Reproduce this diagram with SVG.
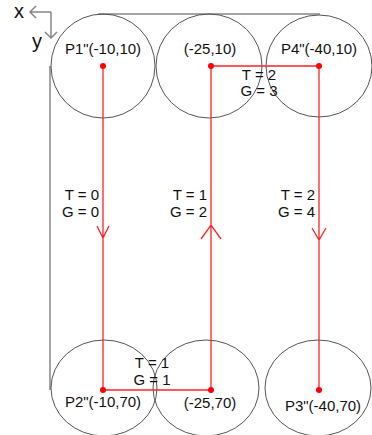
<svg xmlns="http://www.w3.org/2000/svg" width="372" height="435" viewBox="0 0 372 435">
<style>
.c{fill:none;stroke:#555;stroke-width:1}
.g{fill:none;stroke:#888;stroke-width:1.5}
.r{fill:none;stroke:#f22;stroke-width:1.3}
.d{fill:#f00}
text{font-family:"Liberation Sans",Arial,sans-serif;font-size:15px;fill:#111}
.m{text-anchor:middle}
.e{text-anchor:end}
.ax{font-size:20px}
</style>
<rect width="372" height="435" fill="#fff"/>
<g id="axes">
<path class="g" d="M51,12 H30 M36,6 L30,12 L36,18 M51,12 V38 M45,32 L51,38 L57,32"/>
<text class="ax" x="14" y="18">x</text>
<text class="ax" x="32" y="48">y</text>
</g>
<g id="hull">
<path class="g" d="M98,14 H320 M50,66 V390"/>
</g>
<g id="P1">
<ellipse class="c" cx="103" cy="66" rx="52" ry="52"/>
<text class="m" x="103" y="54">P1"(-10,10)</text>
</g>
<g id="N25_10">
<ellipse class="c" cx="209" cy="66" rx="53" ry="52"/>
<text class="m" x="210" y="54">(-25,10)</text>
</g>
<g id="P4">
<ellipse class="c" cx="319" cy="66" rx="53" ry="51"/>
<text class="m" x="319" y="54">P4"(-40,10)</text>
</g>
<g id="P2">
<ellipse class="c" cx="104" cy="388" rx="53" ry="48"/>
<text class="m" x="103" y="407">P2"(-10,70)</text>
</g>
<g id="N25_70">
<ellipse class="c" cx="206" cy="388" rx="53" ry="48"/>
<text class="m" x="210" y="408">(-25,70)</text>
</g>
<g id="P3">
<ellipse class="c" cx="318" cy="388" rx="53" ry="48"/>
<text class="m" x="323" y="411">P3"(-40,70)</text>
</g>
<g id="connectors">
<path class="r" d="M103,66 V390 M97,226 L103,238 L109,226"/>
<path class="r" d="M211,390 V66 M201,239 L211,225 L221,239"/>
<path class="r" d="M319,66 V390 M312,228 L319,240 L326,228"/>
<path class="r" d="M211,66 H319"/>
<path class="r" d="M103,390 H211"/>
<circle class="d" cx="103" cy="66" r="3"/>
<circle class="d" cx="211" cy="66" r="3"/>
<circle class="d" cx="319" cy="66" r="3"/>
<circle class="d" cx="103" cy="390" r="3"/>
<circle class="d" cx="211" cy="390" r="3"/>
<circle class="d" cx="319" cy="390" r="3"/>
<text class="e" x="99" y="200">T = 0</text>
<text class="e" x="99" y="217">G = 0</text>
<text class="e" x="207" y="200">T = 1</text>
<text class="e" x="207" y="217">G = 2</text>
<text class="e" x="315" y="200">T = 2</text>
<text class="e" x="315" y="217">G = 4</text>
<text class="m" x="259" y="80">T = 2</text>
<text class="m" x="259" y="96">G = 3</text>
<text class="m" x="152" y="368">T = 1</text>
<text class="m" x="152" y="385">G = 1</text>
</g>
</svg>
